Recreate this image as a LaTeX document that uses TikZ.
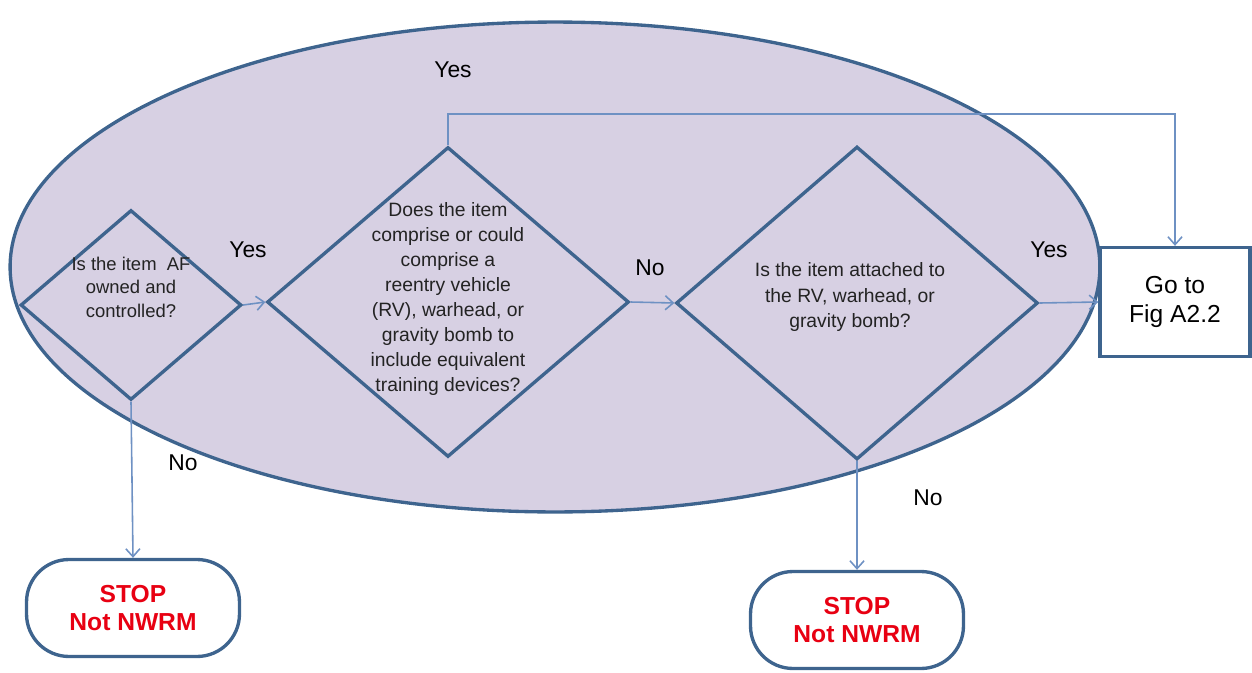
\documentclass[tikz,border=0pt]{standalone}
\usepackage{fontspec}
\setmainfont{Liberation Sans}
\usetikzlibrary{shapes.geometric, arrows.meta, positioning}
\definecolor{myblue}{RGB}{62,100,142}
\definecolor{mylightblue}{RGB}{110,145,195}
\definecolor{mylavender}{RGB}{215,208,227}
\definecolor{myred}{RGB}{232,0,18}
\definecolor{mytext}{RGB}{35,35,35}
\tikzset{
  region/.style={ellipse, draw=myblue, fill=mylavender, line width=1.9pt,
    minimum width=21.8cm, minimum height=9.8cm, inner sep=0pt},
  decision/.style={diamond, draw=myblue, line width=1.9pt, inner sep=0pt},
  qtext/.style={align=center, font=\fontsize{11}{13.6}\selectfont, text=mytext},
  stopbox/.style={rectangle, draw=myblue, fill=white, line width=1.9pt,
    rounded corners=0.85cm, minimum width=4.26cm, minimum height=1.94cm,
    align=center, font=\fontsize{14}{16}\selectfont\bfseries, text=myred},
  gobox/.style={rectangle, draw=myblue, fill=white, line width=1.9pt,
    minimum width=3cm, minimum height=2.18cm, align=center,
    font=\fontsize{14}{17}\selectfont, text=black},
  arrow/.style={-{Straight Barb[length=4.5pt,width=8pt]}, line width=0.9pt, color=mylightblue},
  lbl/.style={font=\fontsize{13}{15}\selectfont, text=black}
}

\begin{document}
\begin{tikzpicture}[x=0.02cm, y=-0.02cm]
  \useasboundingbox (0,0) rectangle (1252,673);

  % Background region
  \node[region] (zone) at (555,267) {};

  % Decisions
  \node[decision, minimum width=4.42cm, minimum height=3.8cm] (d1) at (131,305) {};
  \node[qtext, font=\fontsize{10.5}{13.4}\selectfont] (t1) at (131,287) {Is the item\ \ AF\\owned and\\controlled?};
  \node[decision, minimum width=7.24cm, minimum height=6.2cm] (d2) at (448,302) {};
  \node[qtext, font=\fontsize{11}{14.3}\selectfont] (t2) at (448,299) {Does the item\\comprise or could\\comprise a\\reentry vehicle\\(RV), warhead, or\\gravity bomb to\\include equivalent\\training devices?};
  \node[decision, minimum width=7.24cm, minimum height=6.26cm] (d3) at (857,303) {};
  \node[qtext, font=\fontsize{11}{14.3}\selectfont] (t3) at (850,297) {Is the item attached to\\the RV, warhead, or\\gravity bomb?};

  % Outcomes
  \node[gobox] (go) at (1175,302) {Go to\\Fig A2.2};
  \node[stopbox] (stop1) at (133,608) {STOP\\Not NWRM};
  \node[stopbox] (stop2) at (857,620) {STOP\\Not NWRM};

  % Connections
  \coordinate (loop) at (448,114);
  \draw[arrow] (d1.east) -- (d2.west);
  \draw[arrow] (d2.east) -- (d3.west);
  \draw[arrow] (d3.east) -- (go.west);
  \draw[arrow] (d2.north) -- (loop) -| (go.north);
  \draw[arrow] (d1.south) -- (stop1.north);
  \draw[arrow] (d3.south) -- (stop2.north -| d3.south);

  % Labels
  \node[lbl] (yes0) at (453,70) {Yes};
  \node[lbl] (yes1) at (248,250) {Yes};
  \node[lbl] (no2) at (650,268) {No};
  \node[lbl] (yes3) at (1049,250) {Yes};
  \node[lbl] (no1) at (183,463) {No};
  \node[lbl] (no3) at (928,498) {No};
\end{tikzpicture}
\end{document}
